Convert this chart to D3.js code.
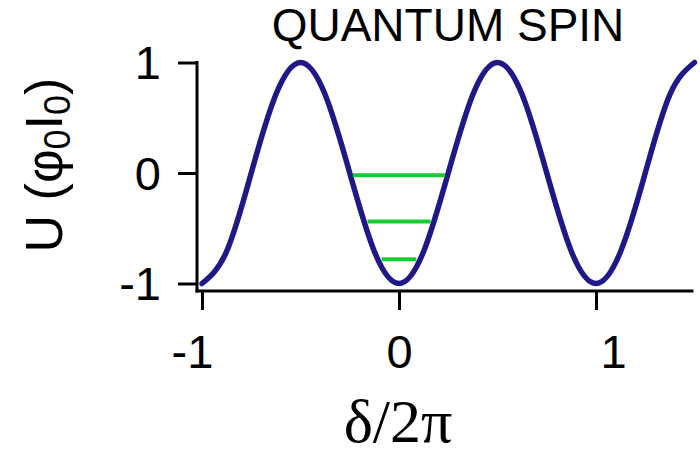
<!DOCTYPE html>
<html>
<head>
<meta charset="utf-8">
<script src="https://cdn.jsdelivr.net/npm/d3@7"></script>
<style>
  html, body { margin: 0; padding: 0; background: #fff; }
  svg { display: block; }
  text { font-family: "Liberation Sans", Arial, sans-serif; fill: #000; }
</style>
</head>
<body>
<svg id="chart" width="700" height="454"></svg>
<script>
// Potential U (in units of φ0·I0) versus phase δ/2π
const phase = [-1, -0.875, -0.75, -0.625, -0.5, -0.375, -0.25, -0.125, 0,
               0.125, 0.25, 0.375, 0.5, 0.625, 0.75, 0.875, 1,
               1.125, 1.25, 1.375, 1.5];
const potential = [-1, -0.71, 0, 0.71, 1, 0.71, 0, -0.71, -1,
                   -0.71, 0, 0.71, 1, 0.71, 0, -0.71, -1,
                   -0.71, 0, 0.71, 1];

// Quantised levels inside the central well
const levelEnergy = [-0.02, -0.44, -0.78];
const levelHalfWidth = [0.234, 0.16, 0.088];

const xTicks = [-1, 0, 1];
const yTicks = [-1, 0, 1];
const xTickLabels = ["-1", "0", "1"];
const yTickLabels = ["-1", "0", "1"];

const titleText = "QUANTUM SPIN";

const svg = d3.select("#chart");

const x = d3.scaleLinear().domain([-1, 1.5]).range([202, 694.5]);
const y = d3.scaleLinear().domain([-1, 1]).range([283.5, 62.5]);

const axisX = 197;   // position of the vertical axis
const axisY = 291;   // position of the horizontal axis

// Potential curve
const line = d3.line()
  .x((d, i) => x(phase[i]))
  .y(d => y(d))
  .curve(d3.curveNatural);

svg.append("path")
  .datum(potential)
  .attr("d", line)
  .attr("fill", "none")
  .attr("stroke", "#1f1886")
  .attr("stroke-width", 5.5)
  .attr("stroke-linecap", "round");

// Energy levels
svg.selectAll("line.level")
  .data(levelEnergy)
  .join("line")
  .attr("class", "level")
  .attr("x1", (d, i) => x(-levelHalfWidth[i]))
  .attr("x2", (d, i) => x(levelHalfWidth[i]))
  .attr("y1", d => y(d))
  .attr("y2", d => y(d))
  .attr("stroke", "#16cc33")
  .attr("stroke-width", 4);

// Left axis
const gy = svg.append("g")
  .attr("transform", `translate(${axisX},0)`)
  .call(d3.axisLeft(y).tickValues(yTicks).tickSize(19)
    .tickFormat((d, i) => yTickLabels[i]));
gy.select(".domain").remove();
gy.selectAll(".tick line").attr("stroke", "#000").attr("stroke-width", 3);
gy.selectAll(".tick text")
  .attr("x", -36)
  .attr("dy", null)
  .attr("y", 16)
  .attr("font-size", 47)
  .attr("font-family", "Liberation Sans, Arial, sans-serif")
  .attr("fill", "#000");
svg.append("line")
  .attr("x1", axisX).attr("x2", axisX)
  .attr("y1", y(1) - 1.5).attr("y2", axisY + 1.5)
  .attr("stroke", "#000").attr("stroke-width", 3);

// Bottom axis
const labelShift = { "-1": -10, "0": 0, "1": 17 };
const gx = svg.append("g")
  .attr("transform", `translate(0,${axisY})`)
  .call(d3.axisBottom(x).tickValues(xTicks).tickSize(19)
    .tickFormat((d, i) => xTickLabels[i]));
gx.select(".domain").remove();
gx.selectAll(".tick line").attr("stroke", "#000").attr("stroke-width", 3);
gx.selectAll(".tick text")
  .attr("dy", null)
  .attr("y", 77)
  .attr("x", d => labelShift[String(d)])
  .attr("font-size", 47)
  .attr("font-family", "Liberation Sans, Arial, sans-serif")
  .attr("fill", "#000");
svg.append("line")
  .attr("x1", axisX - 1.5).attr("x2", x(1.5) - 1)
  .attr("y1", axisY).attr("y2", axisY)
  .attr("stroke", "#000").attr("stroke-width", 3);

// Title
svg.append("text")
  .attr("x", 448)
  .attr("y", 41)
  .attr("text-anchor", "middle")
  .attr("font-size", 46)
  .text(titleText);

// Y axis title: U (φ0 I0)
const yt = svg.append("text")
  .attr("transform", "translate(62,165) rotate(-90)")
  .attr("text-anchor", "middle")
  .attr("font-size", 52);
yt.append("tspan").text("U (φ");
yt.append("tspan").attr("font-size", 36).attr("dy", 8).text("0");
yt.append("tspan").attr("dy", -8).text("I");
yt.append("tspan").attr("font-size", 36).attr("dy", 8).text("0");
yt.append("tspan").attr("dy", -8).text(")");

// X axis title
svg.append("text")
  .attr("x", 398)
  .attr("y", 442)
  .attr("text-anchor", "middle")
  .attr("font-size", 62)
  .style("font-family", "'Liberation Serif', 'Times New Roman', serif")
  .text("δ/2π");
</script>
</body>
</html>
